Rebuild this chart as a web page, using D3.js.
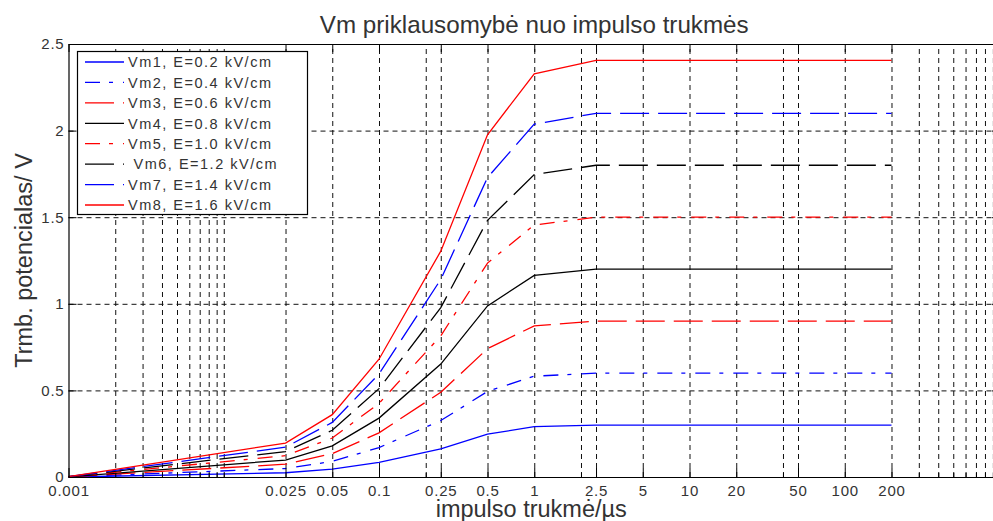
<!DOCTYPE html>
<html>
<head>
<meta charset="utf-8">
<script src="https://cdn.jsdelivr.net/npm/d3@7"></script>
<style>
  html, body { margin: 0; padding: 0; background: #fff; }
  svg { display: block; font-family: "Liberation Sans", Arial, sans-serif; }
</style>
</head>
<body>
<svg id="chart" width="993" height="521"></svg>
<script>
// Pulse duration, µs
const durations = [0.001, 0.025, 0.05, 0.1, 0.25, 0.5, 1, 2.5, 5, 10, 20, 50, 100, 200];

// Transmembrane potential, V, for each field strength
const vm1 = [0.000, 0.0245, 0.045, 0.085, 0.163, 0.247, 0.291, 0.300, 0.300, 0.300, 0.300, 0.300, 0.300, 0.300];
const vm2 = [0.001, 0.049, 0.090, 0.170, 0.326, 0.494, 0.582, 0.600, 0.600, 0.600, 0.600, 0.600, 0.600, 0.600];
const vm3 = [0.001, 0.074, 0.135, 0.255, 0.489, 0.741, 0.873, 0.900, 0.900, 0.900, 0.900, 0.900, 0.900, 0.900];
const vm4 = [0.001, 0.098, 0.180, 0.340, 0.652, 0.988, 1.164, 1.200, 1.200, 1.200, 1.200, 1.200, 1.200, 1.200];
const vm5 = [0.002, 0.123, 0.225, 0.425, 0.815, 1.235, 1.455, 1.500, 1.500, 1.500, 1.500, 1.500, 1.500, 1.500];
const vm6 = [0.002, 0.147, 0.270, 0.510, 0.978, 1.482, 1.746, 1.800, 1.800, 1.800, 1.800, 1.800, 1.800, 1.800];
const vm7 = [0.002, 0.172, 0.315, 0.595, 1.141, 1.729, 2.037, 2.100, 2.100, 2.100, 2.100, 2.100, 2.100, 2.100];
const vm8 = [0.002, 0.196, 0.360, 0.680, 1.304, 1.976, 2.328, 2.405, 2.405, 2.405, 2.405, 2.405, 2.405, 2.405];

const seriesValues = [vm1, vm2, vm3, vm4, vm5, vm6, vm7, vm8];
const seriesNames = [
  "Vm1, E=0.2 kV/cm",
  "Vm2, E=0.4 kV/cm",
  "Vm3, E=0.6 kV/cm",
  "Vm4, E=0.8 kV/cm",
  "Vm5, E=1.0 kV/cm",
  " Vm6, E=1.2 kV/cm",
  "Vm7, E=1.4 kV/cm",
  "Vm8, E=1.6 kV/cm"
];

const xTickValues = [0.001, 0.025, 0.05, 0.1, 0.25, 0.5, 1, 2.5, 5, 10, 20, 50, 100, 200];
const xTickLabels = ["0.001", "0.025", "0.05", "0.1", "0.25", "0.5", "1", "2.5", "5", "10", "20", "50", "100", "200"];
const xMinorValues = [0.002, 0.003, 0.004, 0.005, 0.006, 0.007, 0.008, 0.009, 0.01, 0.2, 2, 40, 300, 400, 500, 600, 700, 800, 900];
const yTickValues = [0, 0.5, 1, 1.5, 2, 2.5];
const yTickLabels = ["0", "0.5", "1", "1.5", "2", "2.5"];

const titleText = "Vm priklausomybė nuo impulso trukmės";
const xLabelText = "impulso trukmė/µs";
const yLabelText = "Trmb. potencialas/ V";

// ---- layout & styles ----
const plotL = 68.5, plotR = 1000, plotT = 44, plotB = 477;
const BLUE = "#0000ff", RED = "#ff0000", BLACK = "#000000";
const DASH_DOT = "15,9,4,10", LONG_DASH = "29,9";
const styles = [
  { color: BLUE,  dash: null },
  { color: BLUE,  dash: DASH_DOT },
  { color: RED,   dash: LONG_DASH },
  { color: BLACK, dash: null },
  { color: RED,   dash: DASH_DOT },
  { color: BLACK, dash: LONG_DASH },
  { color: BLUE,  dash: LONG_DASH },
  { color: RED,   dash: null }
];
const textColor = "#333";

const svg = d3.select("#chart");
svg.append("rect").attr("width", 993).attr("height", 521).attr("fill", "#fff");

const x = d3.scaleLog().domain([0.001, 1000]).range([plotL, plotR]);
const y = d3.scaleLinear().domain([0, 2.5]).range([plotB, plotT]);

// ---- grid ----
const gridDash = "5,4";
const xGridValues = xTickValues.slice(1).concat(xMinorValues);
const gx = svg.append("g").attr("transform", `translate(0,${plotB})`)
  .call(d3.axisBottom(x).tickValues(xGridValues).tickSize(-(plotB - plotT)).tickFormat(""));
gx.select(".domain").remove();
gx.selectAll("line").attr("stroke", "#111").attr("stroke-dasharray", gridDash);

const gy = svg.append("g").attr("transform", `translate(${plotL},0)`)
  .call(d3.axisLeft(y).tickValues([0.5, 1, 1.5, 2]).tickSize(-(plotR - plotL)).tickFormat(""));
gy.select(".domain").remove();
gy.selectAll("line").attr("stroke", "#111").attr("stroke-dasharray", gridDash);

// ---- data lines ----
const line = d3.line().x(d => x(d.t)).y(d => y(d.v));
seriesValues.forEach((vals, i) => {
  const pts = durations.map((t, j) => ({ t, v: vals[j] }));
  svg.append("path")
    .datum(pts)
    .attr("d", line)
    .attr("fill", "none")
    .attr("stroke", styles[i].color)
    .attr("stroke-width", 1.3)
    .attr("stroke-dasharray", styles[i].dash);
});

// ---- axes ----
const axBottom = svg.append("g").attr("transform", `translate(0,${plotB})`)
  .call(d3.axisBottom(x).tickValues(xTickValues).tickFormat((d, i) => xTickLabels[i])
    .tickSizeInner(-9).tickSizeOuter(0).tickPadding(8));
axBottom.selectAll("text").attr("font-size", 15).attr("fill", textColor)
  .attr("font-family", "'Liberation Sans', Arial, sans-serif").style("letter-spacing", "0.8px");

const axMinor = svg.append("g").attr("transform", `translate(0,${plotB})`)
  .call(d3.axisBottom(x).tickValues(xMinorValues).tickFormat("").tickSizeInner(-4).tickSizeOuter(0));
axMinor.select(".domain").remove();

svg.append("g").attr("transform", `translate(0,${plotT})`)
  .call(d3.axisTop(x).tickValues(xTickValues).tickFormat("").tickSizeInner(-8).tickSizeOuter(0));

const axLeft = svg.append("g").attr("transform", `translate(${plotL},0)`)
  .call(d3.axisLeft(y).tickValues(yTickValues).tickFormat((d, i) => yTickLabels[i])
    .tickSizeInner(-8).tickSizeOuter(0).tickPadding(4));
axLeft.selectAll("text").attr("font-size", 15).attr("fill", textColor)
  .attr("font-family", "'Liberation Sans', Arial, sans-serif").style("letter-spacing", "0.8px");

svg.append("g").attr("transform", `translate(${plotR},0)`)
  .call(d3.axisRight(y).tickValues(yTickValues).tickFormat("").tickSizeInner(-8).tickSizeOuter(0));

svg.selectAll(".domain").attr("stroke", "#000").attr("stroke-width", 1.2);
svg.selectAll(".tick line").filter(function () { return !this.getAttribute("stroke-dasharray"); })
  .attr("stroke", "#000");

// ---- legend ----
const legend = svg.append("g");
legend.append("rect")
  .attr("x", 77.5).attr("y", 51.5).attr("width", 230).attr("height", 163)
  .attr("fill", "#fff").attr("stroke", "#000").attr("stroke-width", 1.2);
const rowY = d3.scaleLinear().domain([0, 7]).range([62, 205]);
seriesNames.forEach((name, i) => {
  const yy = rowY(i);
  legend.append("line")
    .attr("x1", 85).attr("x2", 124).attr("y1", yy).attr("y2", yy)
    .attr("stroke", styles[i].color).attr("stroke-width", 1.3)
    .attr("stroke-dasharray", styles[i].dash);
  legend.append("text")
    .attr("x", 128).attr("y", yy).attr("dy", "0.36em")
    .attr("font-size", 14.5).attr("fill", textColor)
    .style("letter-spacing", "1.5px").style("white-space", "pre")
    .text(name);
});

// ---- titles ----
svg.append("text")
  .attr("x", (plotL + plotR) / 2).attr("y", 33).attr("text-anchor", "middle")
  .attr("font-size", 24.2).attr("fill", textColor).text(titleText);
svg.append("text")
  .attr("x", (plotL + plotR) / 2 - 3).attr("y", 517).attr("text-anchor", "middle")
  .attr("font-size", 23.5).attr("fill", textColor).text(xLabelText);
svg.append("text")
  .attr("transform", `translate(32,${(plotT + plotB) / 2}) rotate(-90)`)
  .attr("text-anchor", "middle")
  .attr("font-size", 23.5).attr("fill", textColor).text(yLabelText);
</script>
</body>
</html>
